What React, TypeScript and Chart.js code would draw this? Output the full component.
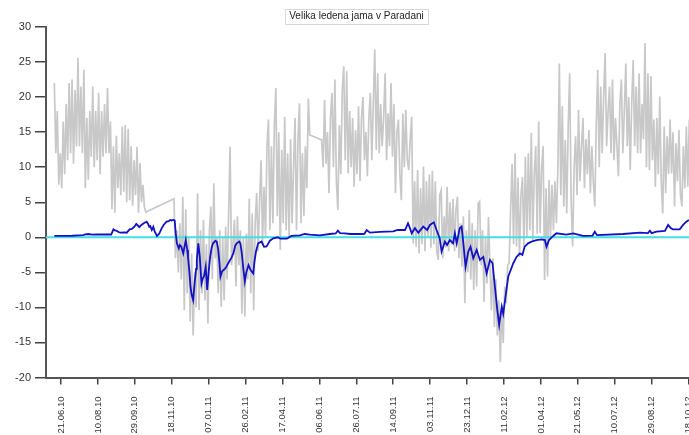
import { useEffect, useRef } from 'react';
import { Chart, registerables } from 'chart.js';

Chart.register(...registerables);

// x values are days counted from 21.06.10
const X_MIN = -20.3;
const X_MAX = 850.6;
const TICK_STEP_DAYS = 50;
const xTickLabels = [
  '21.06.10', '10.08.10', '29.09.10', '18.11.10', '07.01.11', '26.02.11',
  '17.04.11', '06.06.11', '26.07.11', '14.09.11', '03.11.11', '23.12.11',
  '11.02.12', '01.04.12', '21.05.12', '10.07.12', '29.08.12', '18.10.12',
];
const Y_MIN = -20;
const Y_MAX = 30;
const Y_STEP = 5;

const TITLE = 'Velika ledena jama v Paradani';

// outside air temperature (grey), one reading every 2 days, alternating day/night
const AIR_STEP = 2;
const airSeg1Start = -9;
const airSeg1 = [
  22, 12, 18, 7.5, 12, 7, 16.5, 9, 19, 11,
  22, 12, 22.5, 10.5, 21, 13, 25.6, 13, 21.5, 12,
  23.9, 7, 17, 8.2, 18, 11.5, 21.5, 10, 18, 11,
  20.6, 9, 18, 11.5, 19, 12, 21.3, 12, 16.5, 4,
  13, 3.5, 14.5, 7, 12, 6, 15.8, 6.5, 16, 5,
  15.5, 5.3, 13, 4.5, 11, 6, 12.9, 3.5, 10.6, 5,
  7.5, 4.3, 3.6,
];
const airSeg2Start = 153;
const airSeg2 = [
  5.5, -3, 1, -5, 2, -6, 5.8, -10.4, 4, -8,
  0, -12, -2.3, -14, -5, -10, 6.3, -10.4, 1, -8,
  2.5, -9, -1, -12.3, 1, 4.4, -6, 7.7, -3, 0,
  -8, 1, -9.9, 0, -9, 1.5, -6, 3, 12.9, -4,
  -1, 2.5, -7, 3, -4, 1, -10.9, 0, -11.3, 0.5,
  -6, 5.5, -8, 3.4, -10.4, 2, 6.3, -2, 5, 11,
  -1, 7.2, 0, 13, 16.8, 1, 13, 2, 16, 21.3,
  3, 15, -1.8, 12.5, 2, 17.2, 1, 12, 0, 14,
  2, 10, 17, 1, 14, 19.1, 2, 12, 3, 13,
  7, 19.8, 14.6,
];
const airSeg3Start = 353;
const airSeg3 = [
  13.9, 10, 19.6, 10.5, 15, 6.3, 17, 20.6, 10, 22.5,
  8, 3.9, 16, 9, 21, 24.4, 11, 23.7, 9.1, 18,
  10, 17, 7.2, 15.3, 9, 18.7, 8, 17, 20, 11,
  15, 8.7, 17, 20.6, 11, 19, 26.8, 12.5, 23.4, 12,
  19, 13, 17, 23.4, 11, 17.7, 13, 22, 11.5, 19,
  6.3, 15, 16.8, 9, 5.3, 17.7, 10, 18.2, 11, 9.6,
  14, 17.2, -0.9, 8, -1.3, 9.6, -2.3, 7, -1, 10.1,
  -2, 8, 0, 9, -1.5, 9.5, -1, 8, -2, -3.2,
  6, 6.7, -3, 3, -1.5, 7.2, -2, 5, -1, 5.5,
  -2, 4, 5.8, -3, 2, -4.2, 3, -9.4, 1, -5,
  3.9, -6, 2, -7.5, 1, -7, 4.8, 5.1, -4, 1,
  -9.2, 0, -6.6, 2.9, -4, -10.4, -3, -12.8, -6, -14,
  -9, -17.8, -10, -15.1, -7, -9.4, -4, -3.7, 4, 10.5,
  -1, 12, -1.3, 8.5, -2.8, 6, 8.6, -1.3, 11.5, 0,
  12, 1, 14.9, -0.4, 9, 13, 0.5, 16.5, 0.6, 10,
  13, -6.1, 7, -5.6, 8.2, 0, 7.5, 1, 8, 2,
  10, 24.8, 6, 18.7, 4.4, 13.9, 3.4, 16, 23.4, 5,
  -1.3, 10, 14.4, 6, 18.2, 8, 13, 17, 7, 14,
  9, 15.3, 6.3, 13, 8, 4.4, 16, 23.9, 10, 21.5,
  12, 20, 26.3, 13, 18, 21.5, 12, 22.5, 11, 17,
  13, 8.7, 19, 22.5, 12, 18, 24.8, 13, 20, 9.6,
  19, 25.3, 13, 21.5, 12, 23.4, 12, 19, 14, 27.7,
  10, 23.4, 9.6, 23, 11, 16.8, 7.2, 17, 9, 20.1,
  8, 3.4, 15.8, 6.3, 14.4, 9, 16.8, 9.1, 15, 4.4,
  13.4, 8, 15.3, 6, 4.4, 13, 7, 15.8, 7.2, 16.8,
];

// cave temperature (blue)
const caveDays = [
  -9, 0, 15, 30, 33, 37, 42, 48, 55, 68,
  71, 73, 75, 78, 80, 86, 89, 93, 96, 98,
  100, 102, 104, 106, 109, 112, 116, 118, 119.6, 121,
  123, 125, 127, 130, 133, 136, 139, 143, 146, 148,
  150, 152, 154, 155.5, 157, 159.6, 161, 163, 165.6, 167,
  169, 171, 172, 174, 175.4, 177, 179, 181, 183, 184,
  186, 188, 190.3, 192, 193.6, 196, 198, 200, 202, 204,
  206, 209, 211, 213, 214.5, 216, 218, 219.8, 222, 224,
  226, 229, 231, 233.4, 236, 238, 241.5, 243, 244.7, 247,
  249, 251, 254, 257, 260.4, 262, 264, 267, 271.7, 275,
  278.5, 283, 287.5, 294, 297, 306, 312, 323.6, 330, 337,
  350.7, 364, 372, 375, 378, 384.5, 391.6, 405, 411, 414,
  418.5, 432, 450, 456, 466, 470, 473, 475, 479.4, 484,
  490.6, 496, 499.7, 505, 508.7, 513, 515.5, 520, 523, 526.7,
  531, 533.5, 536, 540, 542.6, 545, 548, 551.6, 554.7, 558.4,
  563, 567.4, 572, 576.5, 581, 584.5, 587.7, 591, 593.5, 597,
  599, 602.7, 605.8, 609, 612.6, 617, 621.5, 625, 628, 632.6,
  637.3, 644, 651, 655.4, 657.6, 661, 666.7, 671, 684.5, 693.7,
  700.5, 707, 720, 723, 726, 761.4, 784, 795, 797.6, 800,
  806.6, 818, 822.3, 826, 829, 838, 842.6, 847, 850.5,
];
const caveTemps = [
  0.19, 0.2, 0.22, 0.3, 0.42, 0.47, 0.38, 0.42, 0.4, 0.4,
  1.14, 1.0, 0.95, 0.75, 0.66, 0.7, 0.66, 1.14, 1.2, 1.4,
  1.6, 1.9, 1.7, 1.45, 1.76, 2.0, 2.23, 1.9, 1.5, 1.6,
  1.04, 1.5, 0.8, 0.19, 0.5, 1.2, 1.76, 2.23, 2.3, 2.47,
  2.4, 2.5, 2.4, 0.5, -0.86, -1.6, -1.1, -1.34, -2.3, -1.5,
  -0.4, -1.8, -2.8, -5, -7.05, -8.2, -8.96, -6.5, -4.5, -3.24,
  -0.86, -2.8, -6.6, -5.9, -5.6, -4.2, -7.5, -5, -2.8, -1.5,
  -0.86, -0.5, -0.62, -1.8, -3.5, -5.6, -4.9, -4.7, -4.5, -4.2,
  -3.8, -3.24, -2.9, -2.3, -1.2, -0.86, -0.6, -0.9, -2.1, -4.5,
  -6.3, -5, -3.96, -4.7, -5.15, -3.5, -2.1, -0.86, -0.6, -1.34,
  -1.3, -0.48, -0.15, 0, -0.2, -0.2, 0.19, 0.28, 0.47, 0.38,
  0.28, 0.47, 0.55, 0.95, 0.6, 0.57, 0.47, 0.47, 0.5, 1.04,
  0.66, 0.76, 0.85, 1.04, 1.04, 2.0, 1.2, 0.57, 1.3, 0.66,
  1.52, 1.04, 1.76, 2.14, 1.04, -0.15, -2.05, -0.62, -1.1, -0.4,
  -0.86, 0.57, -0.86, 1.28, 1.52, -0.86, -4.2, -2.05, -1.34, -3,
  -1.8, -3.24, -2.8, -5.15, -3.24, -3.7, -7.05, -10.4, -12.5, -9.9,
  -10.9, -8, -5.6, -4.7, -3.7, -2.8, -2.3, -2.5, -1.34, -0.86,
  -0.62, -0.4, -0.3, -0.4, -1.34, -0.4, 0.19, 0.57, 0.38, 0.57,
  0.38, 0.19, 0.25, 0.8, 0.3, 0.47, 0.66, 0.6, 0.95, 0.6,
  0.8, 0.9, 1.76, 1.3, 1.14, 1.14, 1.76, 2.23, 2.47,
];

const ZERO_LEVEL = 0;

function segmentPoints(start: number, values: number[]) {
  return values.map((v, i) => ({ x: start + i * AIR_STEP, y: v }));
}

const titleBoxPlugin = {
  id: 'titleBox',
  afterDraw(chart: Chart) {
    const ctx = chart.ctx;
    ctx.save();
    ctx.font = '10px "Liberation Sans", Arial, sans-serif';
    const w = ctx.measureText(TITLE).width;
    const cx = 356.5;
    const cy = 16;
    const bw = w + 8;
    const bh = 15;
    ctx.fillStyle = '#ffffff';
    ctx.fillRect(cx - bw / 2, cy - bh / 2, bw, bh);
    ctx.strokeStyle = '#d8d8d8';
    ctx.lineWidth = 1;
    ctx.strokeRect(Math.round(cx - bw / 2) + 0.5, Math.round(cy - bh / 2) + 0.5, Math.round(bw), bh);
    ctx.fillStyle = '#222222';
    ctx.textAlign = 'center';
    ctx.textBaseline = 'middle';
    ctx.fillText(TITLE, cx, cy + 0.5);
    ctx.restore();
  },
};

export default function App() {
  const canvasRef = useRef<HTMLCanvasElement | null>(null);

  useEffect(() => {
    document.body.style.margin = '0';
    const canvas = canvasRef.current;
    if (!canvas) return;

    const airPoints = [
      ...segmentPoints(airSeg1Start, airSeg1),
      ...segmentPoints(airSeg2Start, airSeg2),
      ...segmentPoints(airSeg3Start, airSeg3),
    ];
    const cavePoints = caveDays.map((d, i) => ({ x: d, y: caveTemps[i] }));
    const zeroPoints = [
      { x: X_MIN, y: ZERO_LEVEL },
      { x: X_MAX, y: ZERO_LEVEL },
    ];

    const chart = new Chart(canvas, {
      type: 'line',
      data: {
        datasets: [
          {
            label: 'jama',
            data: cavePoints,
            borderColor: '#1212c4',
            borderWidth: 1.8,
            pointRadius: 0,
            tension: 0,
            order: 1,
          },
          {
            label: '0',
            data: zeroPoints,
            borderColor: '#40e0e4',
            borderWidth: 2,
            pointRadius: 0,
            order: 2,
          },
          {
            label: 'zunaj',
            data: airPoints,
            borderColor: '#c8c8c8',
            borderWidth: 1.7,
            pointRadius: 0,
            tension: 0,
            order: 3,
          },
        ],
      },
      options: {
        animation: false,
        responsive: false,
        devicePixelRatio: 1,
        layout: { padding: { top: 27, left: 0, right: 0, bottom: 0 } },
        plugins: {
          legend: { display: false },
          tooltip: { enabled: false },
          title: { display: false },
        },
        scales: {
          x: {
            type: 'linear',
            min: X_MIN,
            max: X_MAX,
            afterBuildTicks: (s: any) => {
              s.ticks = xTickLabels.map((_, i) => ({ value: i * TICK_STEP_DAYS }));
            },
            afterFit: (s: any) => {
              s.height = 57.5;
              s.paddingLeft = 0;
              s.paddingRight = 0;
            },
            ticks: {
              autoSkip: false,
              maxRotation: 90,
              minRotation: 90,
              padding: 12,
              color: '#333333',
              font: { family: '"Liberation Sans", Arial, sans-serif', size: 9.5 },
              callback: (v: any) => xTickLabels[Math.round(Number(v) / TICK_STEP_DAYS)],
            },
            grid: {
              display: true,
              drawOnChartArea: false,
              drawTicks: true,
              tickLength: 7,
              color: '#444444',
              lineWidth: 1.5,
            },
            border: { display: true, color: '#555555', width: 2 },
          },
          y: {
            type: 'linear',
            min: Y_MIN,
            max: Y_MAX,
            afterFit: (s: any) => {
              s.width = 46;
            },
            ticks: {
              stepSize: Y_STEP,
              padding: 4,
              color: '#333333',
              font: { family: '"Liberation Sans", Arial, sans-serif', size: 11 },
            },
            grid: {
              display: true,
              drawOnChartArea: false,
              drawTicks: true,
              tickLength: 11,
              color: '#444444',
              lineWidth: 1.5,
            },
            border: { display: true, color: '#555555', width: 2 },
          },
        },
      },
      plugins: [titleBoxPlugin],
    });

    return () => {
      chart.destroy();
    };
  }, []);

  return (
    <div style={{ width: 689, height: 435, overflow: 'hidden', background: '#ffffff' }}>
      <canvas ref={canvasRef} width={689} height={435} style={{ display: 'block' }} />
    </div>
  );
}
